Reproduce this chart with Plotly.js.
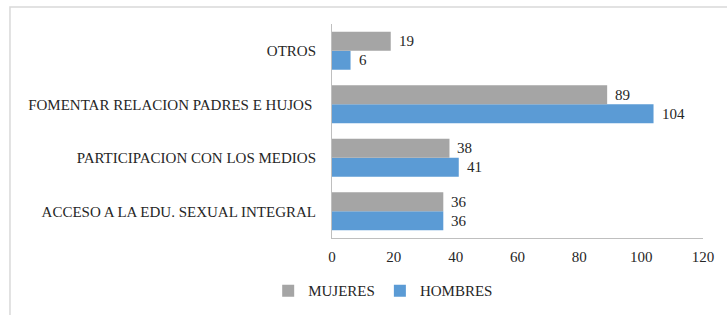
<!DOCTYPE html>
<html>
<head>
<meta charset="utf-8">
<script src="https://cdn.plot.ly/plotly-3.0.1.min.js"></script>
<style>html,body{margin:0;padding:0;background:#fff;}#chart{width:727px;height:315px;}</style>
</head>
<body>
<div id="chart"></div>
<script>
const categories = ["ACCESO A LA EDU. SEXUAL INTEGRAL", "PARTICIPACION CON LOS MEDIOS", "FOMENTAR RELACION PADRES E HUJOS ", "OTROS"];
const mujeres = [36, 38, 89, 19];
const hombres = [36, 41, 104, 6];
const xTicks = [0, 20, 40, 60, 80, 100, 120];

const font = {family: "Liberation Serif, Times New Roman, serif", size: 15, color: "#262626"};

const traces = [
  {type: "bar", orientation: "h", name: "HOMBRES", y: categories, x: hombres,
   marker: {color: "#5b9bd5"}, hoverinfo: "x"},
  {type: "bar", orientation: "h", name: "MUJERES", y: categories, x: mujeres,
   marker: {color: "#a5a5a5"}, hoverinfo: "x"}
];

const annotations = [];
categories.forEach((c, i) => {
  annotations.push({x: mujeres[i], y: c, text: String(mujeres[i]), showarrow: false,
    xanchor: "left", xshift: 6, yshift: 9.5, font: font});
  annotations.push({x: hombres[i], y: c, text: String(hombres[i]), showarrow: false,
    xanchor: "left", xshift: 6, yshift: -9.5, font: font});
});

const layout = {
  width: 727, height: 315,
  margin: {l: 332, r: 24, t: 24, b: 77, autoexpand: false},
  paper_bgcolor: "#fff", plot_bgcolor: "#fff",
  font: font,
  barmode: "group", bargap: 0.29, bargroupgap: 0,
  showlegend: true,
  legend: {orientation: "h", traceorder: "reversed", x: -0.172, xanchor: "left", y: -0.17, yanchor: "top",
           font: font, itemwidth: 30},
  xaxis: {range: [0, 120], tickvals: xTicks, ticktext: xTicks.map(String), showgrid: false, zeroline: false,
          showline: true, linecolor: "#bfbfbf", linewidth: 1, ticks: "outside", ticklen: 5, tickcolor: "rgba(0,0,0,0)",
          tickfont: font, fixedrange: true},
  yaxis: {type: "category", categoryorder: "array", categoryarray: categories, showgrid: false, zeroline: false,
          showline: true, linecolor: "#bfbfbf", linewidth: 1, ticks: "outside", ticklen: 12, tickcolor: "rgba(0,0,0,0)",
          tickfont: font, fixedrange: true},
  annotations: annotations,
  shapes: [{type: "rect", xref: "paper", yref: "paper", x0: -0.868, x1: 1.07, y0: -0.45, y1: 1.08,
            line: {color: "#d9d9d9", width: 1.5}, fillcolor: "rgba(0,0,0,0)", layer: "below"}]
};

Plotly.newPlot("chart", traces, layout, {displayModeBar: false, staticPlot: true});
</script>
</body>
</html>
